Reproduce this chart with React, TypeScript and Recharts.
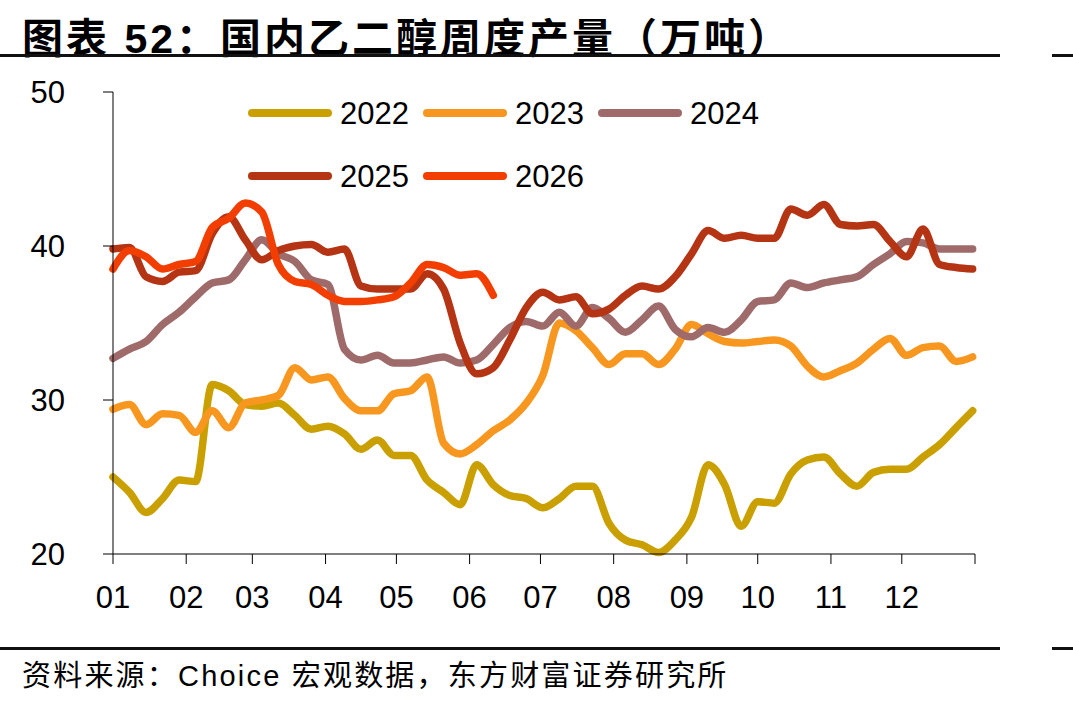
import React from 'react';
import { LineChart, Line, XAxis, YAxis, Legend } from 'recharts';

// weekly output, 10k tonnes (one value per week, week 1 = Jan 1)
const y2022 = [25.0, 24.0, 22.7, 23.6, 24.8, 24.7, 31.0, 30.6, 29.7, 29.6, 29.8, 29.0, 28.1, 28.3, 27.8, 26.8, 27.4, 26.4, 26.4, 24.8, 24.0, 23.2, 25.8, 24.5, 23.8, 23.6, 23.0, 23.6, 24.4, 24.4, 22.0, 20.9, 20.6, 20.1, 20.9, 22.4, 25.8, 24.5, 21.8, 23.4, 23.3, 25.2, 26.1, 26.3, 25.2, 24.4, 25.3, 25.5, 25.5, 26.3, 27.1, 28.2, 29.3];
const y2023 = [29.4, 29.7, 28.4, 29.1, 29.0, 27.9, 29.3, 28.2, 29.8, 30.0, 30.3, 32.1, 31.3, 31.5, 30.1, 29.3, 29.3, 30.4, 30.6, 31.5, 27.2, 26.5, 27.1, 28.0, 28.7, 29.8, 31.6, 35.0, 34.5, 33.4, 32.3, 33.0, 33.0, 32.3, 33.3, 34.9, 34.3, 33.8, 33.7, 33.8, 33.9, 33.5, 32.2, 31.5, 31.9, 32.4, 33.3, 34.0, 32.9, 33.4, 33.5, 32.5, 32.8];
const y2024 = [32.7, 33.3, 33.8, 34.9, 35.7, 36.7, 37.6, 37.8, 39.1, 40.4, 39.5, 39.0, 37.8, 37.5, 33.3, 32.6, 32.9, 32.4, 32.4, 32.6, 32.8, 32.4, 32.6, 33.6, 34.7, 35.1, 34.8, 35.7, 34.8, 36.0, 35.3, 34.4, 35.2, 36.1, 34.6, 34.1, 34.7, 34.4, 35.2, 36.4, 36.5, 37.6, 37.3, 37.6, 37.8, 38.0, 38.8, 39.5, 40.3, 40.2, 39.8, 39.8, 39.8];
const y2025 = [39.8, 39.9, 38.0, 37.7, 38.3, 38.4, 40.8, 41.9, 40.4, 39.1, 39.7, 40.0, 40.1, 39.6, 39.8, 37.4, 37.2, 37.2, 37.2, 38.2, 37.2, 33.7, 31.7, 32.1, 33.9, 36.0, 37.0, 36.5, 36.7, 35.6, 35.9, 36.8, 37.4, 37.2, 38.0, 39.5, 41.0, 40.5, 40.7, 40.5, 40.5, 42.4, 42.0, 42.7, 41.4, 41.3, 41.4, 40.3, 39.3, 41.1, 38.8, 38.6, 38.5];
const y2026 = [38.5, 39.7, 39.3, 38.5, 38.8, 39.0, 41.2, 41.8, 42.8, 42.2, 38.8, 37.7, 37.5, 36.8, 36.4, 36.4, 36.5, 36.7, 37.6, 38.8, 38.6, 38.1, 38.2, 36.8];

const monthStarts = [0, 31, 59, 90, 120, 151, 181, 212, 243, 273, 304, 334, 365];
const monthLabels = ['01', '02', '03', '04', '05', '06', '07', '08', '09', '10', '11', '12'];
const yTicks = [20, 30, 40, 50];

const series = [
  { key: '2022', values: y2022, color: '#C9A000' },
  { key: '2023', values: y2023, color: '#F7971F' },
  { key: '2024', values: y2024, color: '#9E6A6A' },
  { key: '2025', values: y2025, color: '#B43414' },
  { key: '2026', values: y2026, color: '#F23E00' },
];

const data = y2022.map((_, i) => {
  const row: Record<string, number | undefined> = { day: i * 7 };
  series.forEach(s => { row[s.key] = s.values[i]; });
  return row;
});

const latin = '"Liberation Sans", Arial, "Noto Sans CJK SC", sans-serif';

const renderLegend = (props: any) => {
  const items = props.payload || [];
  return (
    <div style={{ display: 'grid', gridTemplateColumns: '175px 175px 175px', rowGap: 13 }}>
      {items.map((it: any) => (
        <div key={it.value} style={{ display: 'flex', alignItems: 'center', height: 50 }}>
          <span style={{ width: 84, height: 8, borderRadius: 4, background: it.color, display: 'inline-block' }} />
          <span style={{ marginLeft: 8, fontSize: 31, fontFamily: latin, color: '#000', lineHeight: 1 }}>{it.value}</span>
        </div>
      ))}
    </div>
  );
};

export default function App() {
  return (
    <div style={{ position: 'absolute', left: 0, top: 0, width: 1073, height: 701, background: '#fff', overflow: 'hidden' }}>
      <div style={{ position: 'absolute', left: 22, top: 5, fontSize: 41, fontWeight: 'bold', letterSpacing: 3, fontFamily: latin, color: '#000', whiteSpace: 'nowrap' }}>
        图表 52：国内乙二醇周度产量（万吨）
      </div>
      <div style={{ position: 'absolute', left: 0, top: 54, width: 1000, height: 3, background: '#111' }} />
      <div style={{ position: 'absolute', left: 1052, top: 54, width: 21, height: 3, background: '#111' }} />

      <div style={{ position: 'absolute', left: 0, top: 0 }}>
        <LineChart width={1073} height={701} data={data} margin={{ top: 92, right: 98, bottom: 87, left: 0 }}>
          <XAxis
            dataKey="day"
            type="number"
            domain={[0, 365]}
            ticks={monthStarts}
            interval={0}
            height={60}
            tickSize={10}
            tickMargin={22}
            axisLine={{ stroke: '#000' }}
            tickLine={{ stroke: '#000' }}
            tick={{ fill: '#000', fontSize: 31, fontFamily: latin }}
            tickFormatter={(v: number) => monthLabels[monthStarts.indexOf(v)] ?? ''}
          />
          <YAxis
            domain={[20, 50]}
            ticks={yTicks}
            width={113}
            tickSize={10}
            tickMargin={38}
            axisLine={{ stroke: '#000' }}
            tickLine={{ stroke: '#000' }}
            tick={{ fill: '#000', fontSize: 31, fontFamily: latin }}
          />
          <Legend
            layout="horizontal"
            verticalAlign="middle"
            align="center"
            wrapperStyle={{ top: 88, left: 248, width: 560 }}
            content={renderLegend}
          />
          {series.map(s => (
            <Line
              key={s.key}
              type="monotone"
              dataKey={s.key}
              name={s.key}
              stroke={s.color}
              strokeWidth={7.5}
              strokeLinecap="round"
              strokeLinejoin="round"
              dot={false}
              activeDot={false}
              isAnimationActive={false}
            />
          ))}
        </LineChart>
      </div>

      <div style={{ position: 'absolute', left: 0, top: 647, width: 1000, height: 3, background: '#111' }} />
      <div style={{ position: 'absolute', left: 1052, top: 647, width: 21, height: 3, background: '#111' }} />
      <div style={{ position: 'absolute', left: 22, top: 652, fontSize: 29, letterSpacing: 2.2, fontFamily: latin, color: '#000', whiteSpace: 'nowrap' }}>
        资料来源：Choice 宏观数据，东方财富证券研究所
      </div>
    </div>
  );
}
